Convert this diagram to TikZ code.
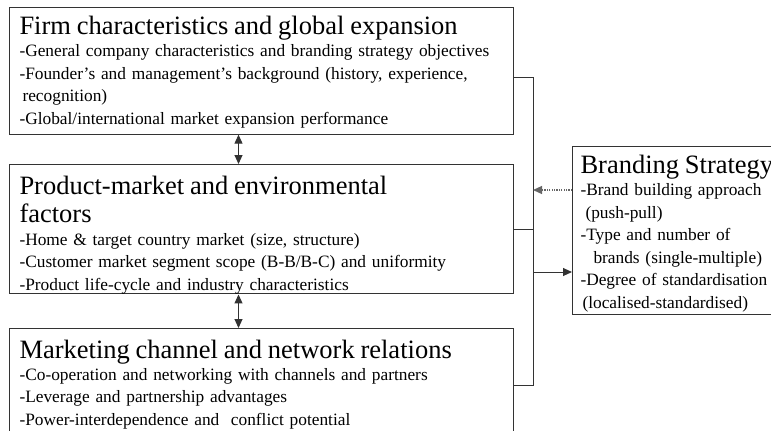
\documentclass[tikz,border=0pt]{standalone}
\usepackage{fontspec}
\setmainfont{Liberation Serif}
\usetikzlibrary{arrows.meta}
\newcommand{\boxtitle}{\fontsize{26.6}{28}\selectfont}
\newcommand{\boxbody}{\fontsize{17.4}{22.5}\selectfont}
% invisible struts that fix the space above the first line and below the last
\newcommand{\topgap}[1]{\rule{0pt}{#1bp}}
\newcommand{\bottomgap}[1]{\rule[-#1bp]{0pt}{#1bp}}
\begin{document}
\begin{tikzpicture}[x=1bp,y=-1bp,
  factor/.style={draw=black!80, line width=1bp, anchor=north west,
    align=left, inner xsep=10bp, inner ysep=0bp,
    text width=484bp, font=\boxbody},
  strategy/.style={draw=black!80, line width=1bp, anchor=north west,
    align=left, inner xsep=8bp, inner ysep=0bp,
    text width=240bp, font=\boxbody},
  link/.style={draw=black!80, line width=1bp},
  tip/.style={-{Triangle[length=9bp,width=8bp]}},
  both/.style={{Triangle[length=9bp,width=8bp]}-{Triangle[length=9bp,width=8bp]}},
  feedback/.style={draw=black!60, line width=1.2bp, dash pattern=on 1.2bp off 1.2bp}]
\useasboundingbox (0,0) rectangle (771,430);

\node[factor] (firm) at (9,7)
  {\topgap{27}{\boxtitle Firm characteristics and global expansion}\\
   -General company characteristics and branding strategy objectives\\
   -Founder’s and management’s background (history, experience,\\
   \hspace*{3bp}recognition)\\
   -Global/international market expansion performance\bottomgap{10}};

\node[factor] (market) at (9,164)
  {\topgap{30}{\boxtitle Product-market and environmental\\[6bp] factors}\\
   -Home \& target country market (size, structure)\\
   -Customer market segment scope (B-B/B-C) and uniformity\\
   -Product life-cycle and industry characteristics\bottomgap{3.8}};

\node[factor] (channel) at (9,328)
  {\topgap{29.5}{\boxtitle Marketing channel and network relations}\\
   -Co-operation and networking with channels and partners\\
   -Leverage and partnership advantages\\
   -Power-interdependence and\ \ conflict potential\bottomgap{25}};

\node[strategy] (brand) at (572,146)
  {\topgap{27}{\boxtitle Branding Strategy}\\
   -Brand building approach\\
   \hspace*{5bp}(push-pull)\\
   -Type and number of\\
   \hspace*{13bp}brands (single-multiple)\\
   -Degree of standardisation\\
   \hspace*{2bp}(localised-standardised)\bottomgap{6}};

% collecting line on the right of the three factor boxes
\coordinate (top) at (533,77);
\coordinate (bottom) at (533,385);
\coordinate (out) at (533,272);
\coordinate (back) at (533,190);

\draw[link] (top -| firm.east) -- (top) -- (bottom) -- (bottom -| channel.east);
\draw[link] (market.east) -- (market.east -| top);
\draw[link, tip] (out) -- (out -| brand.west);
\draw[feedback, tip] (back -| brand.west) -- (back);

% mutual influence between neighbouring factor boxes
\draw[link, both] ([xshift=-23bp]firm.south) -- ([xshift=-23bp]market.north);
\draw[link, both] ([xshift=-23bp]market.south) -- ([xshift=-23bp]channel.north);
\end{tikzpicture}
\end{document}
